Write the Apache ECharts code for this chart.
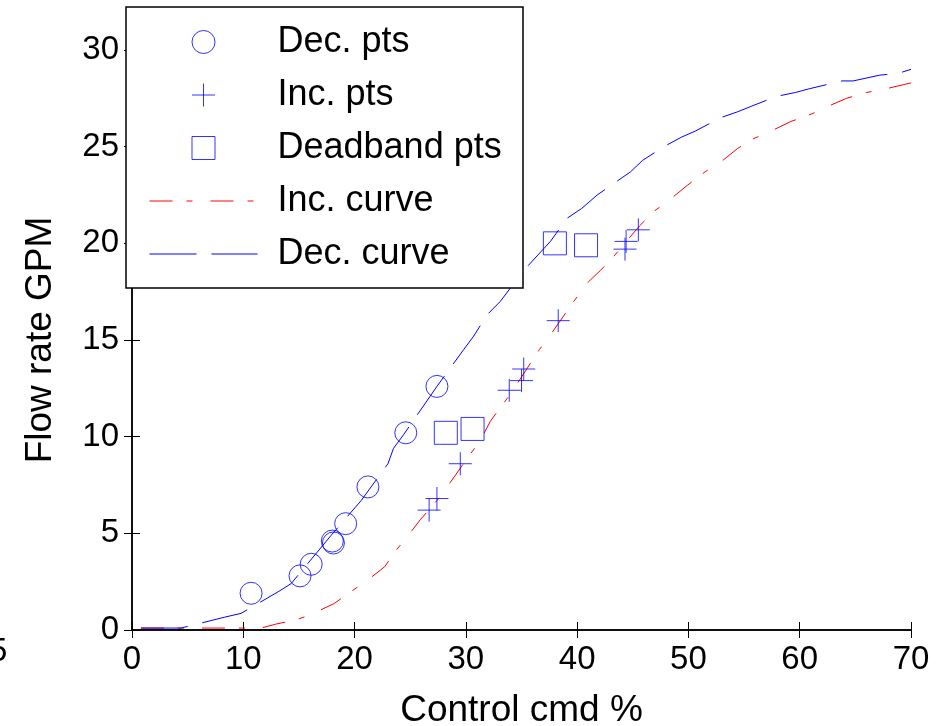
<!DOCTYPE html>
<html>
<head>
<meta charset="utf-8">
<script src="https://cdn.jsdelivr.net/npm/echarts@6/dist/echarts.min.js"></script>
<style>
  html, body { margin: 0; padding: 0; background: #fff; }
  #chart { width: 947px; height: 726px; }
</style>
</head>
<body>
<div id="chart"></div>
<script>
// ---- data ----
const xTicks = [0, 10, 20, 30, 40, 50, 60, 70];
const yTicks = [0, 5, 10, 15, 20, 25, 30];

const decPts = [
  [10.7, 1.9], [15.1, 2.8], [16.1, 3.4], [18.0, 4.6], [18.1, 4.5],
  [19.2, 5.5], [21.2, 7.4], [24.6, 10.2], [27.4, 12.6]
];
const incPts = [
  [26.7, 6.2], [27.4, 6.8], [29.5, 8.6], [33.9, 12.4], [35.0, 12.9],
  [35.2, 13.5], [38.3, 16.0], [44.3, 19.7], [44.4, 20.1], [45.5, 20.7]
];
const deadbandPts = [
  [28.2, 10.2], [30.6, 10.4], [38.0, 20.0], [40.8, 19.9]
];
const incCurve = [
  [0.8, 0.1], [11.6, 0.1], [12.9, 0.3], [14.9, 0.55], [16.2, 0.83], [18.2, 1.38],
  [19.7, 2.0], [21.0, 2.5], [22.7, 3.27], [23.7, 4.1], [24.7, 4.8], [25.9, 5.7],
  [27.7, 6.9], [30.4, 9.1], [31.3, 9.8], [32.2, 10.8], [34.0, 12.2], [36.6, 14.5],
  [37.4, 15.1], [39.7, 17.0], [41.0, 18.0], [42.1, 18.6], [43.4, 19.4], [45.6, 20.9],
  [47.0, 21.7], [48.2, 22.2], [49.9, 23.0], [51.5, 23.7], [52.9, 24.2], [54.4, 24.9],
  [55.8, 25.4], [57.4, 25.8], [59.2, 26.3], [61.1, 26.7], [62.6, 27.1], [64.2, 27.5],
  [66.0, 27.8], [67.8, 28.0], [70.0, 28.3]
];
const decCurve = [
  [0.8, 0.1], [4.4, 0.1], [8.3, 0.66], [9.8, 0.86], [13.2, 2.0], [14.3, 2.4],
  [17.9, 4.9], [20.6, 6.7], [23.0, 8.6], [23.5, 9.4], [24.4, 10.1], [27.4, 12.6],
  [29.8, 14.5], [30.7, 15.2], [31.9, 16.3], [33.1, 17.0], [35.2, 18.6], [37.6, 20.1],
  [39.1, 21.3], [40.4, 21.8], [41.8, 22.5], [44.8, 23.7], [45.9, 24.3], [47.8, 25.0],
  [49.4, 25.5], [50.6, 25.8], [52.9, 26.5], [54.4, 26.8], [55.7, 27.1], [57.9, 27.6],
  [59.6, 27.8], [60.9, 28.0], [63.8, 28.4], [64.8, 28.4], [67.2, 28.7], [68.9, 28.8],
  [70.0, 29.0]
];
const seriesNames = ['Dec. pts', 'Inc. pts', 'Deadband pts', 'Inc. curve', 'Dec. curve'];
const xName = 'Control cmd %';
const yName = 'Flow rate GPM';

// ---- chart ----
const FONT = "'Liberation Sans', Arial, Helvetica, sans-serif";
const BLUE = '#0000ff';
const RED = '#ff0000';
const CROSS = 'path://M0,-1L0,1M-1,0L1,0';
const SQUARE = 'path://M0,0L1,0L1,1L0,1Z';
const HOLLOW = 'rgba(0,0,0,0)';

const chart = echarts.init(document.getElementById('chart'), null, { renderer: 'canvas' });

const axisCommon = {
  type: 'value',
  axisLine: { show: true, lineStyle: { color: '#000', width: 1.5 } },
  axisTick: { show: true, inside: true, length: 8, lineStyle: { color: '#000', width: 1 } },
  splitLine: { show: false },
  axisLabel: { color: '#000', fontFamily: FONT, fontSize: 33, margin: 13 }
};

const option = {
  animation: false,
  backgroundColor: '#fff',
  grid: { left: 132, right: 36, top: 50, bottom: 96, containLabel: false, outerBoundsMode: 'none' },
  xAxis: [
    Object.assign({}, axisCommon, {
      position: 'bottom', min: xTicks[0], max: xTicks[xTicks.length - 1], interval: 10,
      name: xName, nameLocation: 'middle', nameGap: 62,
      nameTextStyle: { color: '#000', fontFamily: FONT, fontSize: 37 }
    }),
    Object.assign({}, axisCommon, {
      position: 'top', min: xTicks[0], max: xTicks[xTicks.length - 1], interval: 10,
      axisLabel: { show: false }
    })
  ],
  yAxis: [
    Object.assign({}, axisCommon, {
      position: 'left', min: yTicks[0], max: yTicks[yTicks.length - 1], interval: 5,
      name: yName, nameLocation: 'middle', nameGap: 73,
      nameTextStyle: { color: '#000', fontFamily: FONT, fontSize: 37 }
    }),
    Object.assign({}, axisCommon, {
      position: 'right', min: yTicks[0], max: yTicks[yTicks.length - 1], interval: 5,
      axisLabel: { show: false }
    })
  ],
  legend: {
    orient: 'vertical',
    left: 149, top: 24,
    padding: 0,
    itemWidth: 108, itemHeight: 23, itemGap: 17,
    symbolKeepAspect: true,
    selectedMode: false,
    textStyle: { color: '#000', fontFamily: FONT, fontSize: 36, padding: [0, 0, 0, 15] },
    data: [
      { name: seriesNames[0], icon: 'circle',
        itemStyle: { color: HOLLOW, borderColor: BLUE, borderWidth: 1 } },
      { name: seriesNames[1], icon: CROSS,
        itemStyle: { color: HOLLOW, borderColor: BLUE, borderWidth: 1 } },
      { name: seriesNames[2], icon: SQUARE,
        itemStyle: { color: HOLLOW, borderColor: BLUE, borderWidth: 1 } },
      { name: seriesNames[3], itemStyle: { opacity: 0 },
        lineStyle: { color: RED, width: 1, type: [23, 14, 6, 18] } },
      { name: seriesNames[4], itemStyle: { opacity: 0 },
        lineStyle: { color: BLUE, width: 1, type: [47, 15] } }
    ]
  },
  graphic: {
    elements: [
      { type: 'rect', z: 3, shape: { x: 126, y: 7, width: 397, height: 281 },
        style: { fill: '#fff', stroke: '#000', lineWidth: 1.5 } },
      { type: 'text', z: 3, left: -11, top: 635,
        style: { text: '5', fill: '#000', font: "33px 'Liberation Sans', Arial, sans-serif" } }
    ]
  },
  series: [
    { name: seriesNames[3], type: 'line', data: incCurve, symbol: 'none', smooth: false,
      lineStyle: { color: RED, width: 1, type: [23, 14, 6, 18] }, itemStyle: { color: RED }, z: 2 },
    { name: seriesNames[4], type: 'line', data: decCurve, symbol: 'none', smooth: false,
      lineStyle: { color: BLUE, width: 1, type: [47, 15] }, itemStyle: { color: BLUE }, z: 2 },
    { name: seriesNames[0], type: 'scatter', data: decPts, symbol: 'circle', symbolSize: 22,
      itemStyle: { color: HOLLOW, borderColor: BLUE, borderWidth: 1 }, z: 2 },
    { name: seriesNames[1], type: 'scatter', data: incPts, symbol: CROSS, symbolSize: 23,
      itemStyle: { color: HOLLOW, borderColor: BLUE, borderWidth: 1 }, z: 2 },
    { name: seriesNames[2], type: 'scatter', data: deadbandPts, symbol: 'rect', symbolSize: 23,
      itemStyle: { color: HOLLOW, borderColor: BLUE, borderWidth: 1 }, z: 2 }
  ]
};
chart.setOption(option);
</script>
</body>
</html>
